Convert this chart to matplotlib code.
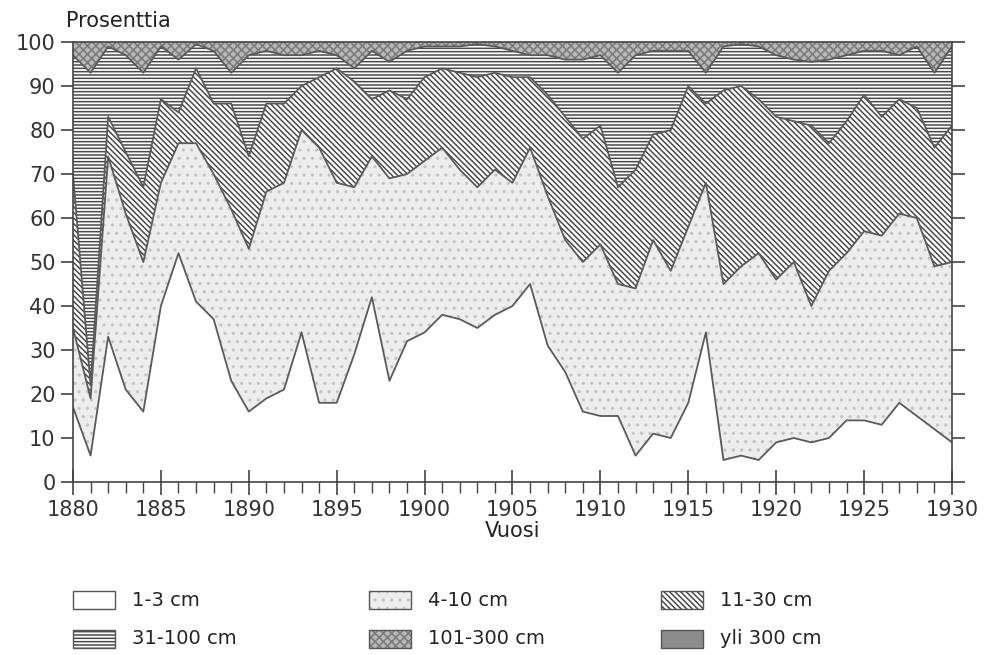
import matplotlib
matplotlib.use("Agg")
import matplotlib.pyplot as plt
from matplotlib.patches import Rectangle
from matplotlib.ticker import MultipleLocator
import numpy as np

years = list(range(1880, 1931))

# osuudet (%) kokoluokittain
s_1_3 = [17, 6, 33, 21, 16, 40, 52, 41, 37, 23,
         16, 19, 21, 34, 18, 18, 29, 42, 23, 32,
         34, 38, 37, 35, 38, 40, 45, 31, 25, 16,
         15, 15, 6, 11, 10, 18, 34, 5, 6, 5,
         9, 10, 9, 10, 14, 14, 13, 18, 15, 12, 9]
s_4_10 = [18, 13, 41, 40, 34, 28, 25, 36, 33, 39,
          37, 47, 47, 46, 58, 50, 38, 32, 46, 38,
          39, 38, 34, 32, 33, 28, 31, 34, 30, 34,
          39, 30, 38, 44, 38, 40, 34, 40, 43, 47,
          37, 40, 31, 38, 38, 43, 43, 43, 45, 37, 41]
s_11_30 = [35, 3, 9, 14, 17, 19, 7, 17, 16, 24,
           21, 20, 18, 10, 16, 26, 24, 13, 20, 17,
           19, 18, 22, 25, 22, 24, 16, 23, 28, 28,
           27, 22, 27, 24, 32, 32, 18, 44, 41, 35,
           37, 32, 41, 29, 30, 31, 27, 26, 25, 27, 31]
s_31_100 = [27, 71, 16, 22, 26, 12, 12, 5.5, 12, 7,
            23, 12, 11, 7, 6, 3, 3, 11, 6.5, 11,
            7, 5, 6, 7.5, 6, 6, 5, 9, 13, 18,
            16, 26, 26, 19, 18, 8, 7, 10, 9.5, 12,
            14, 14, 14.5, 19, 15, 10, 15, 10, 14, 17, 18]
s_101_300 = [3, 7, 1, 3, 7, 1, 4, 0.5, 2, 7,
             3, 2, 3, 3, 2, 3, 6, 2, 4.5, 2,
             1, 1, 1, 0.5, 1, 2, 3, 3, 4, 4,
             3, 7, 3, 2, 2, 2, 7, 1, 0.5, 1,
             3, 4, 4.5, 4, 3, 2, 2, 3, 1, 7, 1]
s_yli_300 = [0] * 51

labels = ["1-3 cm", "4-10 cm", "11-30 cm", "31-100 cm", "101-300 cm", "yli 300 cm"]

plt.rcParams['font.family'] = ['DejaVu Sans']
plt.rcParams['hatch.linewidth'] = 1.1

fig = plt.figure(figsize=(9.88, 6.55), dpi=100)
ax = fig.add_axes([73 / 988, 1 - 482 / 655, (952 - 73) / 988, (482 - 42) / 655])

series = [s_1_3, s_4_10, s_11_30, s_31_100, s_101_300, s_yli_300]
styles = [
    dict(facecolor="white", hatch=None, edgecolor="white"),
    dict(facecolor="#ededed", hatch="..", edgecolor="#c4c4c4"),
    dict(facecolor="white", hatch="\\" * 6, edgecolor="#4a4a4a"),
    dict(facecolor="white", hatch="-----", edgecolor="#4a4a4a"),
    dict(facecolor="#b8b8b8", hatch="xxxx", edgecolor="#7a7a7a"),
    dict(facecolor="#8c8c8c", hatch=None, edgecolor="#8c8c8c"),
]

x = np.array(years)
bottom = np.zeros(len(years))
for vals, st in zip(series, styles):
    top = bottom + np.array(vals, dtype=float)
    ax.fill_between(x, bottom, top, facecolor=st["facecolor"], hatch=st["hatch"],
                    edgecolor=st["edgecolor"], linewidth=0)
    bottom = top

# rajaviivat
cum = np.cumsum(np.array(series[:4], dtype=float), axis=0)
for row in cum:
    ax.plot(x, row, color="#5a5a5a", lw=1.3)

ax.set_xlim(1880, 1930)
ax.set_ylim(0, 100)
ax.set_yticks(range(0, 101, 10))
ax.xaxis.set_major_locator(MultipleLocator(5))
ax.xaxis.set_minor_locator(MultipleLocator(1))
ax.tick_params(axis="x", which="major", direction="inout", length=18, width=1.1,
               labelsize=15, pad=4, colors="#333333")
ax.tick_params(axis="x", which="minor", direction="out", length=8, width=1.0, colors="#444444")
ax.tick_params(axis="y", direction="out", length=9, width=1.1, labelsize=15,
               right=True, colors="#333333")
for sp in ax.spines.values():
    sp.set_color("#444444")
    sp.set_linewidth(1.2)

ax.set_xlabel("Vuosi", fontsize=15, labelpad=1, color="#222222")
fig.text(66 / 988, 1 - 27 / 655, "Prosenttia", fontsize=15, color="#222222", va="baseline")

# selite
legend_pos = [(73, 600), (369, 600), (661, 600), (73, 639), (369, 639), (661, 639)]
for (px, py), lab, st in zip(legend_pos, labels, styles):
    rect = Rectangle((px / 988, 1 - (py + 9) / 655), 42 / 988, 18 / 655,
                     transform=fig.transFigure, facecolor=st["facecolor"],
                     hatch=st["hatch"], edgecolor=st["edgecolor"], linewidth=0)
    fig.patches.append(rect)
    frame = Rectangle((px / 988, 1 - (py + 9) / 655), 42 / 988, 18 / 655,
                      transform=fig.transFigure, facecolor="none",
                      edgecolor="#555555", linewidth=1.0)
    fig.patches.append(frame)
    fig.text((px + 59) / 988, 1 - py / 655, lab, fontsize=14, va="center", color="#222222")

fig.savefig("out.png", dpi=100)
